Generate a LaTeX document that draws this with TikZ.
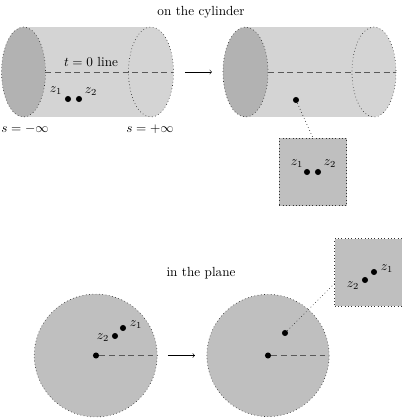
\documentclass[tikz,border=0pt]{standalone}
\begin{document}
\begin{tikzpicture}[x=0.757pt,y=-0.757pt,
  rim/.style={draw=black!80,dotted,line width=0.5pt},
  body/.style={fill=black!17},
  endcap/.style={fill=black!30,rim},
  farcap/.style={fill=black!17,rim},
  disk/.style={circle,fill=black!25,rim,inner sep=0pt},
  zoombox/.style={rectangle,fill=black!25,rim,inner sep=0pt,minimum size=51pt},
  pt/.style={circle,fill=black,inner sep=0pt,minimum size=4.6pt},
  tline/.style={draw=black!65,dash pattern=on 4.5pt off 2.8pt,line width=0.6pt},
  conn/.style={draw=black!85,dotted,line width=0.5pt},
  map/.style={->,line width=0.4pt}]
\useasboundingbox (0,0) rectangle (402,418);
% titles
\node (t1) at (201,12) {on the cylinder};
\node (t2) at (201,273) {in the plane};
% left cylinder
\fill[body] (23.5,27) rectangle (151,117);
\draw[farcap] (151,72) ellipse [x radius=22.5,y radius=45];
\draw[endcap] (23.5,72) ellipse [x radius=22,y radius=45];
\coordinate (a1) at (45.5,72);
\coordinate (a2) at (173.5,72);
\draw[tline] (a1) -- (a2);
\node (tl) at (91,62) {$t=0$ line};
\node[pt] (p1) at (68,99) {};
\node[pt] (p2) at (79,99) {};
\node (l1) at (56,91) {$z_1$};
\node (l2) at (91,92) {$z_2$};
\node (sm) at (25,129) {$s=-\infty$};
\node (sp) at (150,129) {$s=+\infty$};
% arrow
\coordinate (m1) at (185,72);
\coordinate (m2) at (212,72);
\draw[map] (m1) -- (m2);
% right cylinder
\fill[body] (245.5,27) rectangle (374,117);
\draw[farcap] (374,72) ellipse [x radius=22,y radius=45];
\draw[endcap] (245.5,72) ellipse [x radius=22.5,y radius=45];
\coordinate (b1) at (268,72);
\coordinate (b2) at (396,72);
\draw[tline] (b1) -- (b2);
\node[pt] (q) at (296,100) {};
\node[zoombox] (sq1) at (313,172) {};
\draw[conn] (q) -- (sq1.north);
\node[pt] (q1) at (307,172) {};
\node[pt] (q2) at (318,172) {};
\node (k1) at (297,164) {$z_1$};
\node (k2) at (330,164) {$z_2$};
% bottom left disk
\node[disk,minimum size=93pt] (d1) at (95.7,355.5) {};
\node[pt] (c1) at (96,355.5) {};
\coordinate (e1) at (157.2,355.5);
\draw[tline] (c1) -- (e1);
\node[pt] (r2) at (115,336) {};
\node[pt] (r1) at (123,328) {};
\node (n1) at (136,325) {$z_1$};
\node (n2) at (103,338) {$z_2$};
% arrow
\coordinate (m3) at (168,355.5);
\coordinate (m4) at (195,355.5);
\draw[map] (m3) -- (m4);
% bottom right disk
\node[disk,minimum size=92.5pt] (d2) at (268,355.5) {};
\node[pt] (c2) at (268,355.5) {};
\coordinate (e2) at (329,355.5);
\draw[tline] (c2) -- (e2);
\node[pt] (w) at (285,333) {};
\node[zoombox] (sq2) at (368.5,272.5) {};
\draw[conn] (w) -- (335,283);
\node[pt] (w1) at (374,272) {};
\node[pt] (w2) at (365,280) {};
\node (h1) at (387,269) {$z_1$};
\node (h2) at (353,286) {$z_2$};
\end{tikzpicture}
\end{document}
